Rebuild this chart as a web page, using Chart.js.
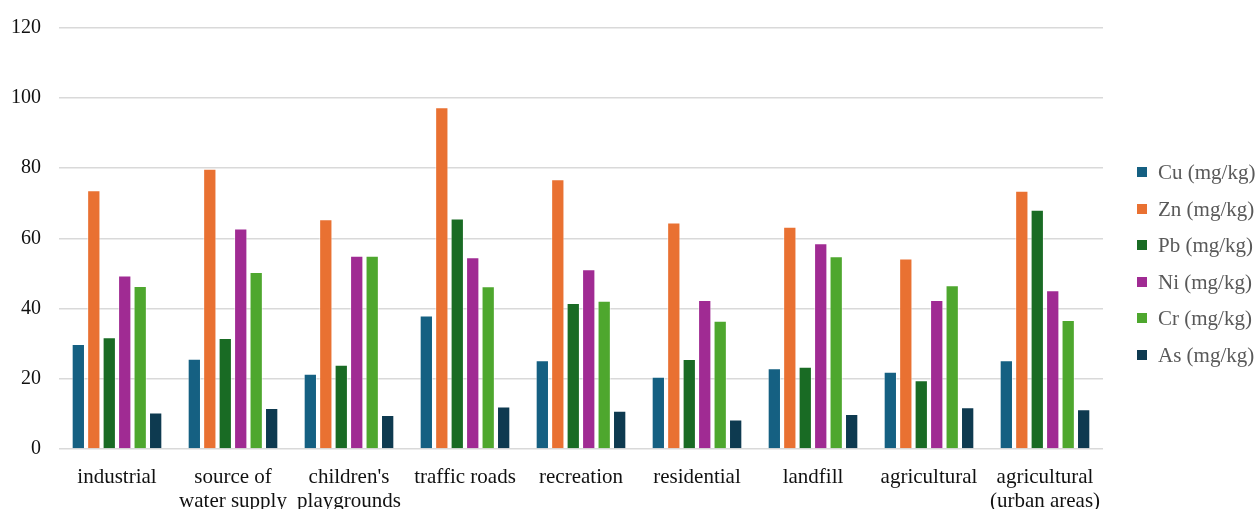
<!DOCTYPE html>
<html>
<head>
<meta charset="utf-8">
<script src="https://cdn.jsdelivr.net/npm/chart.js@4.4.1/dist/chart.umd.min.js"></script>
<style>
  html, body { margin: 0; padding: 0; background: #fff; overflow: hidden; }
  #wrap { width: 1258px; height: 509px; position: relative; }
  #legend { position: absolute; left: 1137px; top: 0; font-family: 'Liberation Serif', 'Times New Roman', serif; font-size: 21px; color: #595959; }
  .item { position: absolute; left: 0; white-space: nowrap; line-height: 24px; height: 24px; }
  .item .box { position: absolute; left: 0; top: 7px; width: 10px; height: 10px; }
  .item .txt { position: absolute; left: 21px; top: 0; }
</style>
</head>
<body>
<div id="wrap"><canvas id="chart"></canvas><div id="legend"></div></div>
<script>
const categories = [
    "industrial",
    ["source of", "water supply"],
    ["children's", "playgrounds"],
    "traffic roads",
    "recreation",
    "residential",
    "landfill",
    "agricultural",
    ["agricultural", "(urban areas)"]
];

const cuValues = [29.9, 25.7, 21.4, 38.0, 25.3, 20.6, 23.0, 22.0, 25.3];
const znValues = [73.7, 79.8, 65.4, 97.3, 76.8, 64.5, 63.3, 54.2, 73.5];
const pbValues = [31.8, 31.6, 24.0, 65.6, 41.6, 25.6, 23.4, 19.6, 68.1];
const niValues = [49.4, 62.8, 55.0, 54.6, 51.2, 42.4, 58.6, 42.4, 45.2];
const crValues = [46.4, 50.4, 55.0, 46.3, 42.2, 36.5, 54.9, 46.6, 36.7];
const asValues = [10.4, 11.7, 9.7, 12.1, 10.9, 8.4, 10.0, 11.9, 11.3];

const yTicks = [0, 20, 40, 60, 80, 100, 120];

const serif = "'Liberation Serif', 'Times New Roman', serif";

const makeSet = (label, data, color) => ({
    label: label,
    data: data,
    backgroundColor: color,
    borderColor: "rgba(255,255,255,0.5)",
    borderWidth: 1,
    categoryPercentage: 0.8,
    barPercentage: 0.86
});

const ctx = document.getElementById("chart").getContext("2d");

const chart = new Chart(ctx, {
    type: 'bar',
    data: {
        labels: categories,
        datasets: [
            makeSet("Cu (mg/kg)", cuValues, "#156082"),
            makeSet("Zn (mg/kg)", znValues, "#E97132"),
            makeSet("Pb (mg/kg)", pbValues, "#196B24"),
            makeSet("Ni (mg/kg)", niValues, "#A02B93"),
            makeSet("Cr (mg/kg)", crValues, "#4EA72E"),
            makeSet("As (mg/kg)", asValues, "#0E3A50")
        ]
    },
    options: {
        responsive: true,
        maintainAspectRatio: false,
        animation: false,
        layout: {
            padding: { left: 11, right: 155, top: 0, bottom: 0 }
        },
        plugins: {
            tooltip: { enabled: false },
            legend: { display: false }
        },
        scales: {
            x: {
                grid: { display: false },
                border: { display: false },
                afterFit: (axis) => { axis.height = 60; },
                ticks: {
                    color: "#111",
                    padding: 8,
                    maxRotation: 0,
                    autoSkip: false,
                    font: { family: serif, size: 21, lineHeight: 1.15 }
                }
            },
            y: {
                min: 0,
                max: 120,
                afterBuildTicks: (axis) => {
                    axis.ticks = yTicks.map(v => ({ value: v }));
                },
                afterFit: (axis) => { axis.width = 48; },
                grid: { color: "#d9d9d9", lineWidth: 1.5, drawTicks: false },
                border: { display: false },
                ticks: {
                    color: "#111",
                    padding: 18,
                    font: { family: serif, size: 20, lineHeight: 0.95 }
                }
            }
        }
    }
});

// legend as html, built from the datasets
const legendEl = document.getElementById("legend");
chart.data.datasets.forEach((ds, i) => {
    const item = document.createElement("div");
    item.className = "item";
    item.style.top = (160 + i * 36.6) + "px";
    item.innerHTML = `<span class="box" style="background:${ds.backgroundColor}"></span><span class="txt">${ds.label}</span>`;
    legendEl.appendChild(item);
});
</script>
</body>
</html>
